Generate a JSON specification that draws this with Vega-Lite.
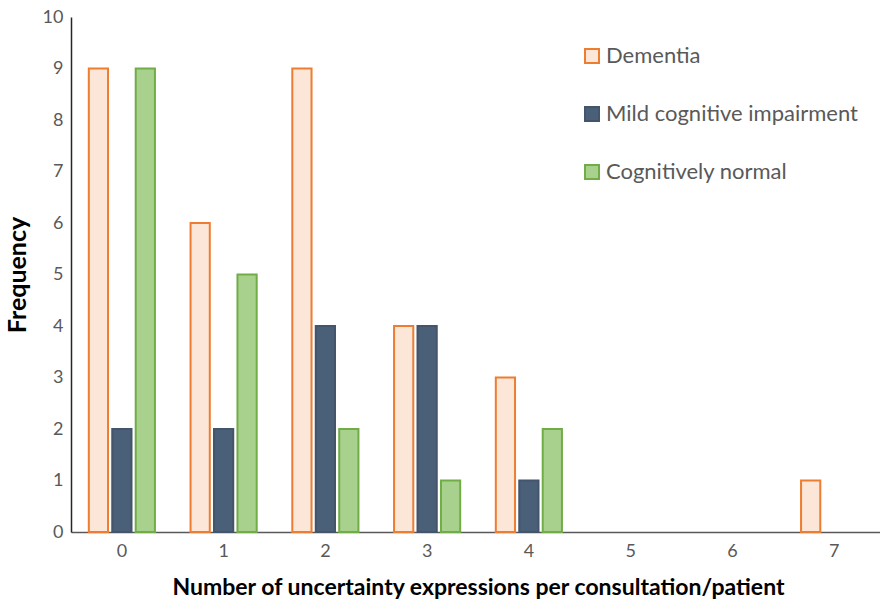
{
  "$schema": "https://vega.github.io/schema/vega-lite/v6.json",
  "autosize": "none",
  "width": 814,
  "height": 515,
  "padding": {"left": 71, "top": 17, "right": 0, "bottom": 69},
  "background": "white",
  "config": {"font": "Lato", "view": {"stroke": null}},
  "data": {"values": [
    {"n": "0", "group": "Dementia", "count": 9},
    {"n": "0", "group": "Mild cognitive impairment", "count": 2},
    {"n": "0", "group": "Cognitively normal", "count": 9},
    {"n": "1", "group": "Dementia", "count": 6},
    {"n": "1", "group": "Mild cognitive impairment", "count": 2},
    {"n": "1", "group": "Cognitively normal", "count": 5},
    {"n": "2", "group": "Dementia", "count": 9},
    {"n": "2", "group": "Mild cognitive impairment", "count": 4},
    {"n": "2", "group": "Cognitively normal", "count": 2},
    {"n": "3", "group": "Dementia", "count": 4},
    {"n": "3", "group": "Mild cognitive impairment", "count": 4},
    {"n": "3", "group": "Cognitively normal", "count": 1},
    {"n": "4", "group": "Dementia", "count": 3},
    {"n": "4", "group": "Mild cognitive impairment", "count": 1},
    {"n": "4", "group": "Cognitively normal", "count": 2},
    {"n": "5", "group": "Dementia", "count": 0},
    {"n": "5", "group": "Mild cognitive impairment", "count": 0},
    {"n": "5", "group": "Cognitively normal", "count": 0},
    {"n": "6", "group": "Dementia", "count": 0},
    {"n": "6", "group": "Mild cognitive impairment", "count": 0},
    {"n": "6", "group": "Cognitively normal", "count": 0},
    {"n": "7", "group": "Dementia", "count": 1},
    {"n": "7", "group": "Mild cognitive impairment", "count": 0},
    {"n": "7", "group": "Cognitively normal", "count": 0}
  ]},
  "transform": [{"filter": "datum.count > 0"}],
  "mark": {"type": "bar", "strokeWidth": 2, "opacity": 1},
  "encoding": {
    "x": {
      "field": "n", "type": "nominal",
      "scale": {"domain": ["0","1","2","3","4","5","6","7"], "paddingInner": 0.35, "paddingOuter": 0.175},
      "axis": {
        "title": "Number of uncertainty expressions per consultation/patient",
        "titleFontSize": 23, "titleFontWeight": "bold", "titleColor": "#000000",
        "titlePadding": 16,
        "labelAngle": 0, "labelFontSize": 18, "labelColor": "#595959", "labelPadding": 10,
        "ticks": false, "domainColor": "#595959", "domainWidth": 1.5
      }
    },
    "xOffset": {
      "field": "group", "type": "nominal",
      "scale": {"domain": ["Dementia", "Mild cognitive impairment", "Cognitively normal"], "paddingInner": 0.18}
    },
    "y": {
      "field": "count", "type": "quantitative",
      "scale": {"domain": [0, 10], "nice": false},
      "axis": {
        "title": "Frequency",
        "titleFontSize": 25, "titleFontWeight": "bold", "titleColor": "#000000", "titlePadding": 12,
        "values": [0,1,2,3,4,5,6,7,8,9,10],
        "labelFontSize": 18, "labelColor": "#595959", "labelPadding": 8,
        "ticks": false, "grid": false, "domainColor": "#262626", "domainWidth": 1.5
      }
    },
    "fill": {
      "field": "group", "type": "nominal",
      "scale": {"domain": ["Dementia", "Mild cognitive impairment", "Cognitively normal"], "range": ["#FCE6D8", "#4A6079", "#A9D18E"]},
      "legend": {
        "title": null, "orient": "none", "legendX": 510, "legendY": 28,
        "symbolType": "square", "symbolSize": 196, "symbolStrokeWidth": 2,
        "labelFontSize": 22, "labelColor": "#595959", "labelLimit": 400, "rowPadding": 36, "labelOffset": 3
      }
    },
    "stroke": {
      "field": "group", "type": "nominal",
      "scale": {"domain": ["Dementia", "Mild cognitive impairment", "Cognitively normal"], "range": ["#ED7D31", "#44546A", "#70AD47"]},
      "legend": {
        "title": null, "orient": "none", "legendX": 510, "legendY": 28,
        "symbolType": "square", "symbolSize": 196, "symbolStrokeWidth": 2,
        "labelFontSize": 22, "labelColor": "#595959", "labelLimit": 400, "rowPadding": 36, "labelOffset": 3
      }
    }
  }
}
